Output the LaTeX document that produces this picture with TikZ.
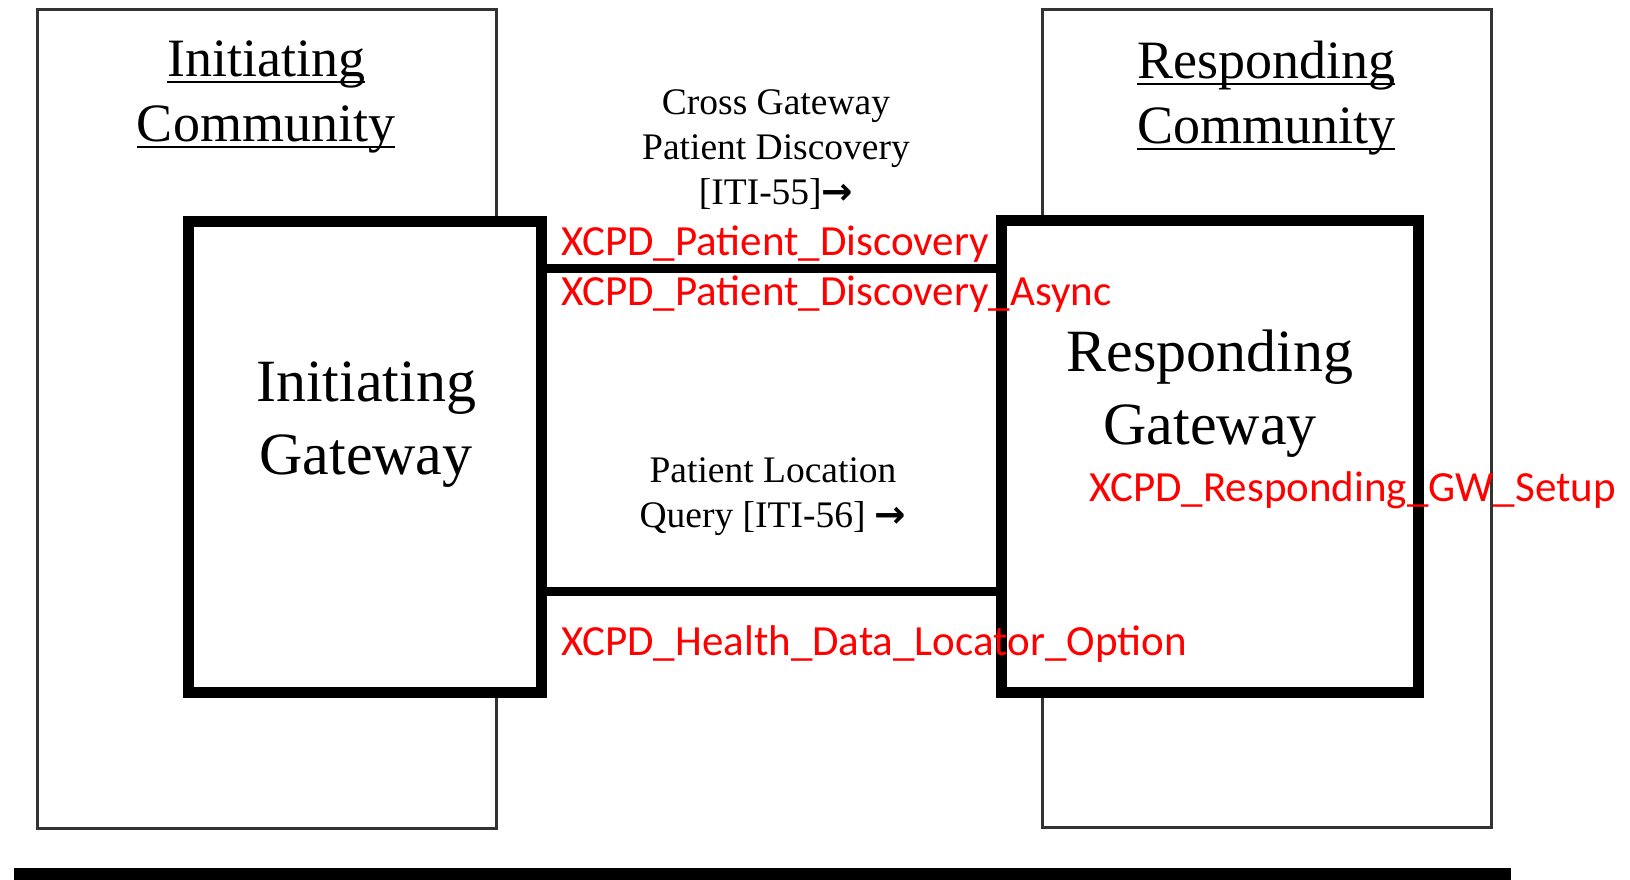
\documentclass[tikz,border=0pt]{standalone}
\usepackage{fontspec}
\setmainfont{Liberation Serif}
\newfontfamily\calibri{Carlito}
\newfontfamily\arrowfont{DejaVu Sans}
\usetikzlibrary{positioning,calc}
\definecolor{myRed}{HTML}{FF0000}
\definecolor{myGray}{HTML}{333333}
\newcommand\commline[1]{\leavevmode\setbox0\hbox{#1}\rlap{\rule[-6.5pt]{\wd0}{2.5pt}}\box0}
\newcommand\toright{{\arrowfont\bfseries →}}

\begin{document}
\begin{tikzpicture}
[
x=1pt,y=-1pt,
community/.style={rectangle,draw=myGray,line width=3pt,inner sep=0pt,outer sep=0pt},
gateway/.style={rectangle,draw=black,fill=white,line width=11pt,inner sep=0pt,outer sep=0pt},
link/.style={black,line width=9pt},
title/.style={align=center,inner sep=0pt,anchor=north,font=\fontsize{54}{65}\selectfont},
gwlabel/.style={align=center,inner sep=0pt,anchor=north,font=\fontsize{60}{73}\selectfont},
txlabel/.style={align=center,inner sep=0pt,anchor=north,font=\fontsize{37.5}{45}\selectfont},
option/.style={myRed,inner sep=0pt,anchor=base west,font=\calibri\fontsize{43}{50}\selectfont},
]
\useasboundingbox (0,0) rectangle (1630,879);

% Boxes
\node[community,minimum width=459pt,minimum height=819pt] (icomm) at (266.5,418.5) {};
\node[community,minimum width=449pt,minimum height=818pt] (rcomm) at (1266.5,418) {};
\node[gateway,minimum width=353pt,minimum height=471pt] (igw) at (364.5,456.5) {};
\node[gateway,minimum width=417pt,minimum height=472pt] (rgw) at (1209.5,456) {};

% Links
\draw[link] (igw.east |- 0,268) -- (rgw.west |- 0,268);
\draw[link] (igw.east |- 0,591.5) -- (rgw.west |- 0,591.5);

% Labels
\node[title] (icommlbl) at (266,41) {\commline{Initiating}\\\commline{Community}};
\node[title] (rcommlbl) at (1266,41) {\commline{Responding}\\\commline{Community}};
\node[gwlabel] (igwlbl) at (366,362) {Initiating\\Gateway};
\node[gwlabel] (rgwlbl) at (1210,330) {Responding\\Gateway};
\node[txlabel] (xcpdlbl) at (776,89) {Cross Gateway\\Patient Discovery\\{[ITI-55]}\toright};
\node[txlabel] (plqlbl) at (773,457) {Patient Location\\Query [ITI-56] \toright};

% Options
\node[option] (pdopt) at (561,255) {XCPD\_Patient\_Discovery};
\node[option] (asyncopt) at (561,305) {XCPD\_Patient\_Discovery\_Async};
\node[option] (setupopt) at (1089,501) {XCPD\_Responding\_GW\_Setup};
\node[option] (hdlopt) at (561,655) {XCPD\_Health\_Data\_Locator\_Option};

\fill (14,868) rectangle (1511,882);

\end{tikzpicture}
\end{document}
